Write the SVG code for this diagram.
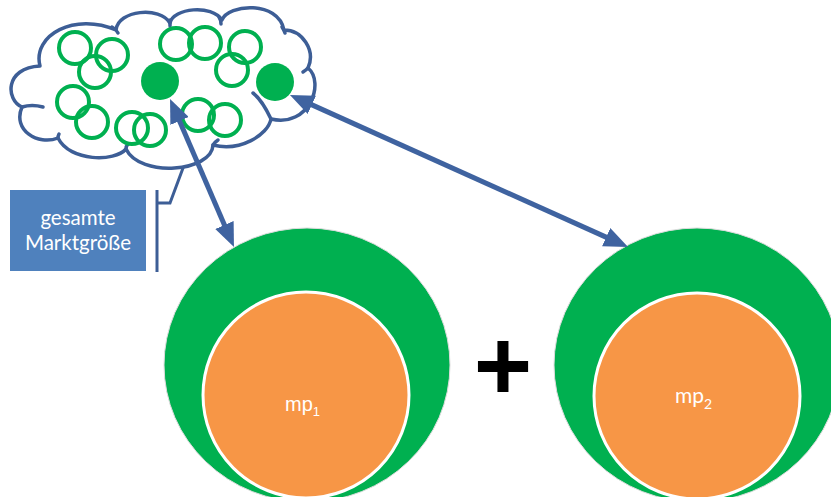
<svg xmlns="http://www.w3.org/2000/svg" width="831" height="497" viewBox="0 0 831 497">
  <style>
    .cloud { fill: #ffffff; stroke: #3D5E96; stroke-width: 3.5; stroke-linejoin: round; }
    .tick { fill: none; stroke: #3D5E96; stroke-width: 3.5; stroke-linecap: round; }
    .ring { fill: none; stroke: #00B050; stroke-width: 4; }
    .dot { fill: #00B050; }
    .big { fill: #00B050; stroke: #dcdcdc; stroke-width: 1; }
    .small { fill: #F79646; stroke: #ffffff; stroke-width: 3; }
    .lbl { fill: #ffffff; }
    .conn { fill: none; stroke: #3F63A0; stroke-width: 5; }
    .bracket { fill: none; stroke: #3D5E96; stroke-width: 3; }
  </style>
  <defs>
    <marker id="head" viewBox="0 0 24 20" markerWidth="24" markerHeight="20" refX="12" refY="10" markerUnits="userSpaceOnUse" orient="auto-start-reverse">
      <path d="M0,0 L24,10 L0,20 z" fill="#3F63A0"/>
    </marker>
  </defs>

  <g id="callout-tail">
    <path class="bracket" d="M186,160 L170,203 L157,203"/>
    <path class="bracket" d="M157,190 L157,272"/>
  </g>

  <g id="cloud">
    <path class="cloud" d="M22,107 C6,100 4,68 40,66 C32,35 75,12 116,30 C118,10 160,6 170,23 C173,8 212,4 222,20 C228,4 278,0 284,30 C302,30 316,50 308,68 C325,82 310,128 271,119 C268,135 240,152 213,145 C212,172 140,178 126,149 C115,162 70,162 58,138 C38,146 12,130 22,107 Z"/>
    <path class="tick" d="M22,107 Q32,104 43,107"/>
    <path class="tick" d="M112,27 Q116,29 118,33"/>
    <path class="tick" d="M170,20 L170,26"/>
    <path class="tick" d="M219,17 Q221,20 221,24"/>
    <path class="tick" d="M282,27 Q284,30 285,33"/>
    <path class="tick" d="M308,68 Q306,70 303,72"/>
    <path class="tick" d="M253,93 Q262,100 271,119"/>
    <path class="tick" d="M213,145 Q215,142 218,140"/>
    <path class="tick" d="M126,149 Q126,146 128,144"/>
    <path class="tick" d="M58,138 Q58,136 59,134"/>
    <circle class="ring" cx="75" cy="48" r="16"/>
    <circle class="ring" cx="112" cy="55" r="16"/>
    <circle class="ring" cx="95" cy="72" r="16"/>
    <circle class="ring" cx="73" cy="102" r="16"/>
    <circle class="ring" cx="92" cy="122" r="16"/>
    <circle class="ring" cx="132" cy="128" r="16"/>
    <circle class="ring" cx="150" cy="130" r="16"/>
    <circle class="ring" cx="176" cy="44" r="16"/>
    <circle class="ring" cx="205" cy="43" r="16"/>
    <circle class="ring" cx="245" cy="47" r="16"/>
    <circle class="ring" cx="232" cy="70" r="16"/>
    <circle class="ring" cx="198" cy="115" r="16"/>
    <circle class="ring" cx="225" cy="120" r="16"/>
    <circle class="dot" cx="160" cy="81" r="19"/>
    <circle class="dot" cx="275" cy="82" r="19"/>
  </g>

  <g id="box">
    <rect x="10" y="190" width="136" height="81" fill="#4F81BD"/>
    <text x="78" y="225" font-family="Lato, 'Open Sans', sans-serif" font-size="20.5" text-anchor="middle" class="lbl">gesamte</text>
    <text x="78" y="250" font-family="Lato, 'Open Sans', sans-serif" font-size="20.5" text-anchor="middle" class="lbl">Marktgröße</text>
  </g>

  <g id="market1">
    <ellipse class="big" cx="307" cy="365" rx="143" ry="137"/>
    <circle class="small" cx="306" cy="395" r="103"/>
    <text x="285" y="411" font-family="'Liberation Sans', Arial, sans-serif" font-size="20" class="lbl">mp<tspan font-size="13" dy="5">1</tspan></text>
  </g>

  <g id="plus">
    <text x="503" y="400" font-family="'Liberation Sans', Arial, sans-serif" font-size="100" font-weight="bold" text-anchor="middle" fill="#000000">+</text>
  </g>

  <g id="market2">
    <ellipse class="big" cx="697" cy="365" rx="143" ry="137"/>
    <circle class="small" cx="697" cy="396" r="103"/>
    <text x="675" y="403" font-family="Lato, 'Open Sans', sans-serif" font-size="21" class="lbl">mp<tspan font-size="14" dy="6">2</tspan></text>
  </g>

  <g id="connectors">
    <path class="conn" d="M174.8,110 L229.2,236" marker-start="url(#head)" marker-end="url(#head)"/>
    <path class="conn" d="M300.9,99.9 L617.1,242.1" marker-start="url(#head)" marker-end="url(#head)"/>
  </g>
</svg>
